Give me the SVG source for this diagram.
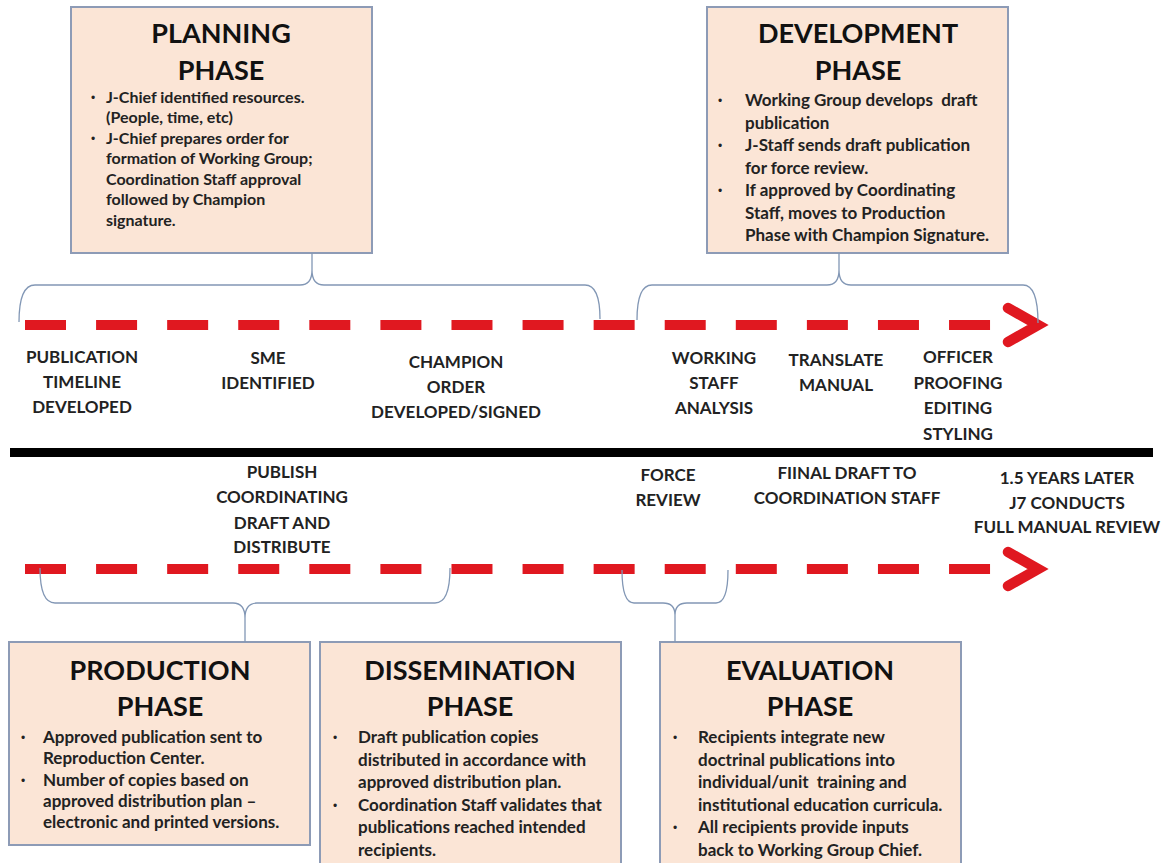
<svg xmlns="http://www.w3.org/2000/svg" width="1174" height="863" viewBox="0 0 1174 863">
<style>
.box{fill:#fbe5d6;stroke:#8d9bb6;stroke-width:2}
.title{font-family:Lato,"Open Sans",sans-serif;font-weight:700;font-size:27px;fill:#111;text-anchor:middle}
.body{font-family:Lato,"Open Sans",sans-serif;font-weight:700;font-size:17px;fill:#222}
.small{font-family:Lato,"Open Sans",sans-serif;font-weight:700;font-size:16px;fill:#222}
.bul{font-family:"Liberation Sans",sans-serif;font-size:12px;fill:#222}
.lbl{font-family:Lato,"Open Sans",sans-serif;font-weight:700;font-size:17px;fill:#222;text-anchor:middle}
.dash{stroke:#e01820;stroke-width:10;stroke-dasharray:41 30.08;fill:none}
.chev{stroke:#e01820;stroke-width:10.5;fill:none;stroke-linecap:round;stroke-linejoin:miter}
.brace{stroke:#8297b5;stroke-width:1.3;fill:none}
</style>
<rect width="1174" height="863" fill="#ffffff"/>

<g id="planning">
<rect class="box" x="71" y="7" width="301" height="246"/>
<text class="title" x="221" y="43">PLANNING</text>
<text class="title" x="221" y="80">PHASE</text>
<text class="bul" x="91" y="101.5">•</text><text class="small" x="106" y="102.5">J-Chief identified resources.</text>
<text class="small" x="106" y="123">(People, time, etc)</text>
<text class="bul" x="91" y="142.5">•</text><text class="small" x="106" y="143.5">J-Chief prepares order for</text>
<text class="small" x="106" y="164">formation of Working Group;</text>
<text class="small" x="106" y="184.5">Coordination Staff approval</text>
<text class="small" x="106" y="205">followed by Champion</text>
<text class="small" x="106" y="225.5">signature.</text>
</g>

<g id="development">
<rect class="box" x="707" y="7" width="301" height="246"/>
<text class="title" x="858" y="43">DEVELOPMENT</text>
<text class="title" x="858" y="80">PHASE</text>
<text class="bul" x="718" y="105">•</text><text class="body" x="745" y="106" xml:space="preserve">Working Group develops  draft</text>
<text class="body" x="745" y="128.5">publication</text>
<text class="bul" x="718" y="150">•</text><text class="body" x="745" y="151">J-Staff sends draft publication</text>
<text class="body" x="745" y="173.5">for force review.</text>
<text class="bul" x="718" y="195">•</text><text class="body" x="745" y="196">If approved by Coordinating</text>
<text class="body" x="745" y="218.5">Staff, moves to Production</text>
<text class="body" x="745" y="241">Phase with Champion Signature.</text>
</g>

<g id="production">
<rect class="box" x="9" y="642" width="301" height="203"/>
<text class="title" x="160" y="680">PRODUCTION</text>
<text class="title" x="160" y="716">PHASE</text>
<text class="bul" x="21" y="742">•</text><text class="body" x="43" y="743">Approved publication sent to</text>
<text class="body" x="43" y="764">Reproduction Center.</text>
<text class="bul" x="21" y="785">•</text><text class="body" x="43" y="786">Number of copies based on</text>
<text class="body" x="43" y="807">approved distribution plan –</text>
<text class="body" x="43" y="828">electronic and printed versions.</text>
</g>

<g id="dissemination">
<rect class="box" x="320" y="642" width="301" height="230"/>
<text class="title" x="470" y="680">DISSEMINATION</text>
<text class="title" x="470" y="716">PHASE</text>
<text class="bul" x="333" y="742">•</text><text class="body" x="358" y="743">Draft publication copies</text>
<text class="body" x="358" y="765.5">distributed in accordance with</text>
<text class="body" x="358" y="788">approved distribution plan.</text>
<text class="bul" x="333" y="809.5">•</text><text class="body" x="358" y="810.5">Coordination Staff validates that</text>
<text class="body" x="358" y="833">publications reached intended</text>
<text class="body" x="358" y="855.5">recipients.</text>
</g>

<g id="evaluation">
<rect class="box" x="660" y="642" width="301" height="230"/>
<text class="title" x="810" y="680">EVALUATION</text>
<text class="title" x="810" y="716">PHASE</text>
<text class="bul" x="673" y="742">•</text><text class="body" x="698" y="743">Recipients integrate new</text>
<text class="body" x="698" y="765.5">doctrinal publications into</text>
<text class="body" x="698" y="788" xml:space="preserve">individual/unit  training and</text>
<text class="body" x="698" y="810.5">institutional education curricula.</text>
<text class="bul" x="673" y="832">•</text><text class="body" x="698" y="833">All recipients provide inputs</text>
<text class="body" x="698" y="855.5">back to Working Group Chief.</text>
</g>

<g id="timeline-top">
<line class="dash" x1="25" y1="325" x2="991" y2="325"/>
<polyline class="chev" points="1008,308 1038,325 1008,342"/>
</g>

<g id="divider">
<rect x="10" y="448" width="1143" height="9" fill="#000"/>
</g>

<g id="timeline-bottom">
<line class="dash" x1="25" y1="569" x2="991" y2="569"/>
<polyline class="chev" points="1008,552 1038,569 1008,586"/>
</g>

<g id="connectors">
<path class="brace" d="M19,322 Q19,285 35,285 L300,285 Q312,285 312,270 L312,253 M312,270 Q312,285 324,285 L585,285 Q600,285 600,319"/>
<path class="brace" d="M637,320 Q637,285 652,285 L827,285 Q839,285 839,270 L839,253 M839,270 Q839,285 851,285 L1023,285 Q1038,285 1038,323"/>
<path class="brace" d="M40,568 Q40,603 55,603 L233,603 Q245,603 245,618 L245,642 M245,618 Q245,603 257,603 L435,603 Q450,603 450,568"/>
<path class="brace" d="M622,570 Q622,603 634,603 L663,603 Q675,603 675,615 L675,642 M675,615 Q675,603 687,603 L716,603 Q728,603 728,570"/>
</g>

<g id="labels-top">
<text class="lbl" x="82" y="363">PUBLICATION</text>
<text class="lbl" x="82" y="388">TIMELINE</text>
<text class="lbl" x="82" y="413">DEVELOPED</text>
<text class="lbl" x="268" y="364">SME</text>
<text class="lbl" x="268" y="389">IDENTIFIED</text>
<text class="lbl" x="456" y="368">CHAMPION</text>
<text class="lbl" x="456" y="393">ORDER</text>
<text class="lbl" x="456" y="418">DEVELOPED/SIGNED</text>
<text class="lbl" x="714" y="364">WORKING</text>
<text class="lbl" x="714" y="389">STAFF</text>
<text class="lbl" x="714" y="414">ANALYSIS</text>
<text class="lbl" x="836" y="366">TRANSLATE</text>
<text class="lbl" x="836" y="391">MANUAL</text>
<text class="lbl" x="958" y="363">OFFICER</text>
<text class="lbl" x="958" y="388.5">PROOFING</text>
<text class="lbl" x="958" y="414">EDITING</text>
<text class="lbl" x="958" y="439.5">STYLING</text>
</g>

<g id="labels-bottom">
<text class="lbl" x="282" y="478">PUBLISH</text>
<text class="lbl" x="282" y="503">COORDINATING</text>
<text class="lbl" x="282" y="529">DRAFT AND</text>
<text class="lbl" x="282" y="553">DISTRIBUTE</text>
<text class="lbl" x="668" y="481">FORCE</text>
<text class="lbl" x="668" y="506">REVIEW</text>
<text class="lbl" x="847" y="479">FIINAL DRAFT TO</text>
<text class="lbl" x="847" y="504">COORDINATION STAFF</text>
<text class="lbl" x="1067" y="484">1.5 YEARS LATER</text>
<text class="lbl" x="1067" y="509">J7 CONDUCTS</text>
<text class="lbl" x="1067" y="533">FULL MANUAL REVIEW</text>
</g>
</svg>
